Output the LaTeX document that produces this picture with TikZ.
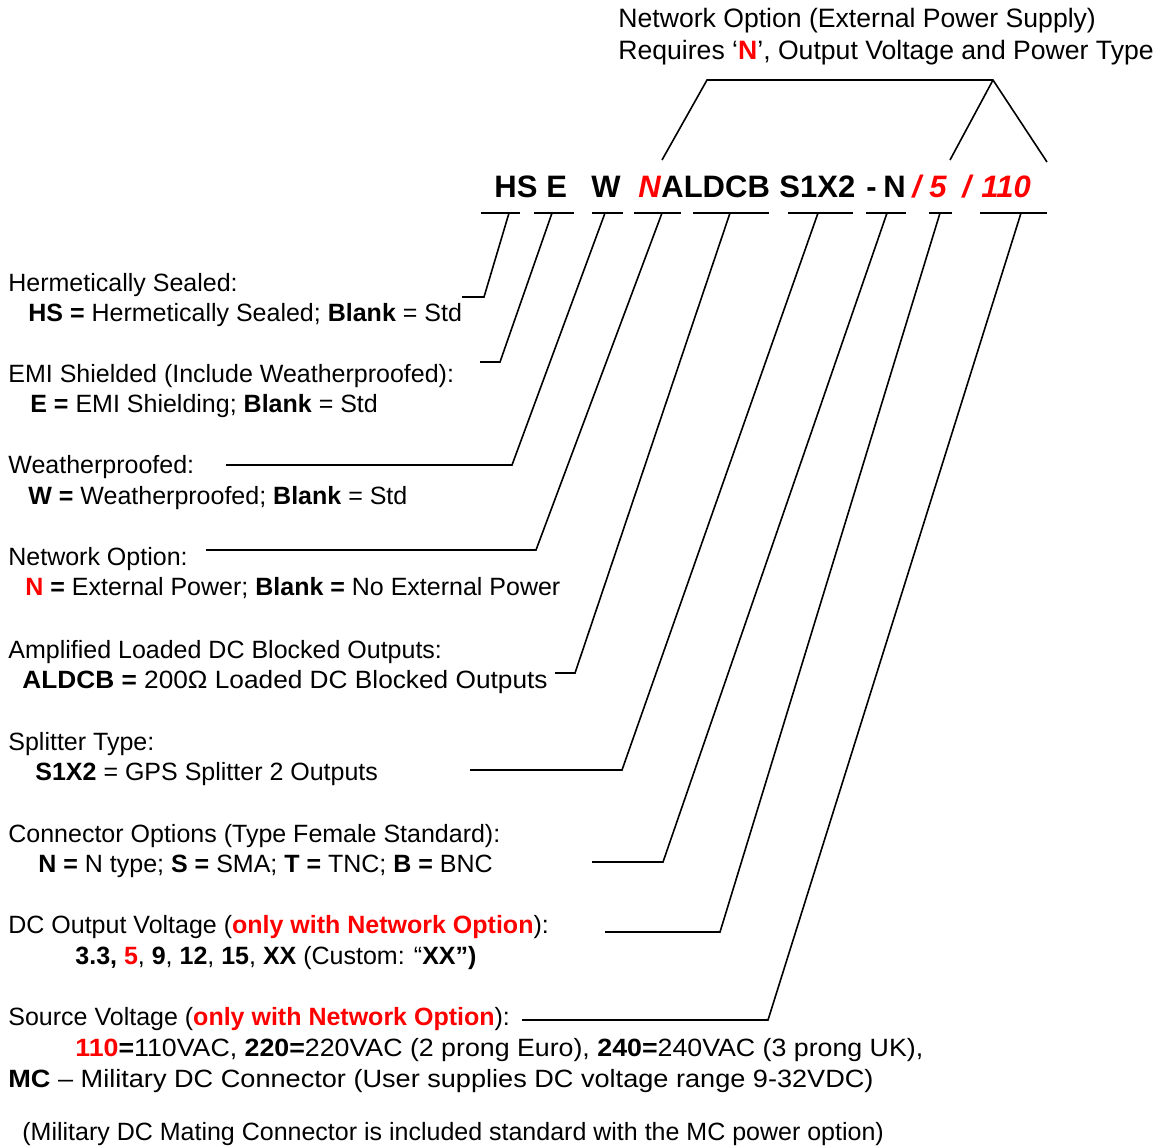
\documentclass[tikz,border=0pt]{standalone}
\usepackage{fontspec}
\setmainfont{Liberation Sans}
\definecolor{optred}{RGB}{255,0,0}
\newcommand{\rb}[1]{\textcolor{optred}{\textbf{#1}}}
\begin{document}
\begin{tikzpicture}[x=0.5pt,y=-0.5pt,
  lbl/.style={anchor=base west, inner sep=0, font=\fontsize{12.5}{15}\selectfont},
  ttl/.style={anchor=base west, inner sep=0, font=\fontsize{13.3}{15}\selectfont},
  code/.style={anchor=base west, inner sep=0, font=\fontsize{15.5}{18}\selectfont\bfseries},
  codered/.style={code, text=optred, font=\fontsize{15.5}{18}\selectfont\bfseries\itshape},
  lead/.style={line width=0.8pt, line join=miter}]
\useasboundingbox (0,0) rectangle (1160,1147);
% title
\node[ttl] (t1) at (618,27) {Network Option (External Power Supply)};
\node[ttl] (t2) at (618,59) {Requires ‘\rb{N}’, Output Voltage and Power Type};
% bracket
\coordinate (bl) at (662,160);
\coordinate (btl) at (707,80);
\coordinate (btr) at (993,80);
\coordinate (br1) at (950,160);
\coordinate (br2) at (1047,162);
\draw[lead] (bl) -- (btl) -- (btr) -- (br2);
\draw[lead] (btr) -- (br1);
% code line
\node[code] (cHS) at (494,197) {HS};
\node[code] (cE) at (546,197) {E};
\node[code] (cW) at (591,197) {W};
\node[codered] (cN) at (638,197) {N};
\node[code] (cAL) at (661,197) {ALDCB};
\node[code] (cS) at (779,197) {S1X2};
\node[code] (cD) at (866,197) {-};
\node[code] (cN2) at (883,197) {N};
\node[codered] (cs1) at (912,197) {/};
\node[codered] (c5) at (929,197) {5};
\node[codered] (cs2) at (962,197) {/};
\node[codered] (c110) at (981,197) {110};
% underlines
\foreach \i/\a/\b in {1/481/520,2/534/574,3/592/623,4/634/681,5/693/769,6/788/853,7/866/906,8/929/952,9/980/1047}{
  \coordinate (u\i w) at (\a,213);
  \coordinate (u\i e) at (\b,213);
  \draw[lead] (u\i w) -- (u\i e);
}
% leader start points, bends, ends
\foreach \i/\sx/\kx/\ky/\ex in {1/509/484/297/462,2/552/500/362/480,3/605/512/465/226,4/662/536/550/206,5/730/575/673/555,6/818/622/770/470,7/887/663/862/592,8/940/720/932/605,9/1021/768/1020/522}{
  \coordinate (s\i) at (\sx,213);
  \coordinate (k\i) at (\kx,\ky);
  \coordinate (e\i) at (\ex,\ky);
  \draw[lead] (s\i) -- (k\i) -- (e\i);
}
% labels
\node[lbl] (l1a) at (8,291) {Hermetically Sealed:};
\node[lbl] (l1b) at (28,321) {\textbf{HS =} Hermetically Sealed; \textbf{Blank} = Std};
\node[lbl] (l2a) at (8,382) {EMI Shielded (Include Weatherproofed):};
\node[lbl] (l2b) at (30,412) {\textbf{E =} EMI Shielding; \textbf{Blank} = Std};
\node[lbl] (l3a) at (8,473) {Weatherproofed:};
\node[lbl] (l3b) at (28,504) {\textbf{W =} Weatherproofed; \textbf{Blank} = Std};
\node[lbl] (l4a) at (8,565) {Network Option:};
\node[lbl] (l4b) at (25,595) {\rb{N} \textbf{=} External Power; \textbf{Blank =} No External Power};
\node[lbl] (l5a) at (8,658) {Amplified Loaded DC Blocked Outputs:};
\node[lbl] (l5b) at (22,688) {\scalebox{1.05}[1]{\textbf{ALDCB =} 200Ω Loaded DC Blocked Outputs}};
\node[lbl] (l6a) at (8,750) {Splitter Type:};
\node[lbl] (l6b) at (35,780) {\textbf{S1X2} = GPS Splitter 2 Outputs};
\node[lbl] (l7a) at (8,842) {Connector Options (Type Female Standard):};
\node[lbl] (l7b) at (38,872) {\textbf{N =} N type; \textbf{S =} SMA; \textbf{T =} TNC; \textbf{B =} BNC};
\node[lbl] (l8a) at (8,933) {DC Output Voltage (\rb{only with Network Option}):};
\node[lbl] (l8b) at (75,964) {\textbf{3.3,} \rb{5}, \textbf{9}, \textbf{12}, \textbf{15}, \textbf{XX} (Custom: “\textbf{XX”)}};
\node[lbl] (l9a) at (8,1025) {Source Voltage (\rb{only with Network Option}):};
\node[lbl] (l9b) at (75,1056) {\scalebox{1.07}[1]{\rb{110}\textbf{=}110VAC, \textbf{220=}220VAC (2 prong Euro), \textbf{240=}240VAC (3 prong UK),}};
\node[lbl] (l9c) at (8,1087) {\scalebox{1.085}[1]{\textbf{MC} – Military DC Connector (User supplies DC voltage range 9-32VDC)}};
\node[lbl] (l10) at (22,1140) {(Military DC Mating Connector is included standard with the MC power option)};
\end{tikzpicture}
\end{document}
